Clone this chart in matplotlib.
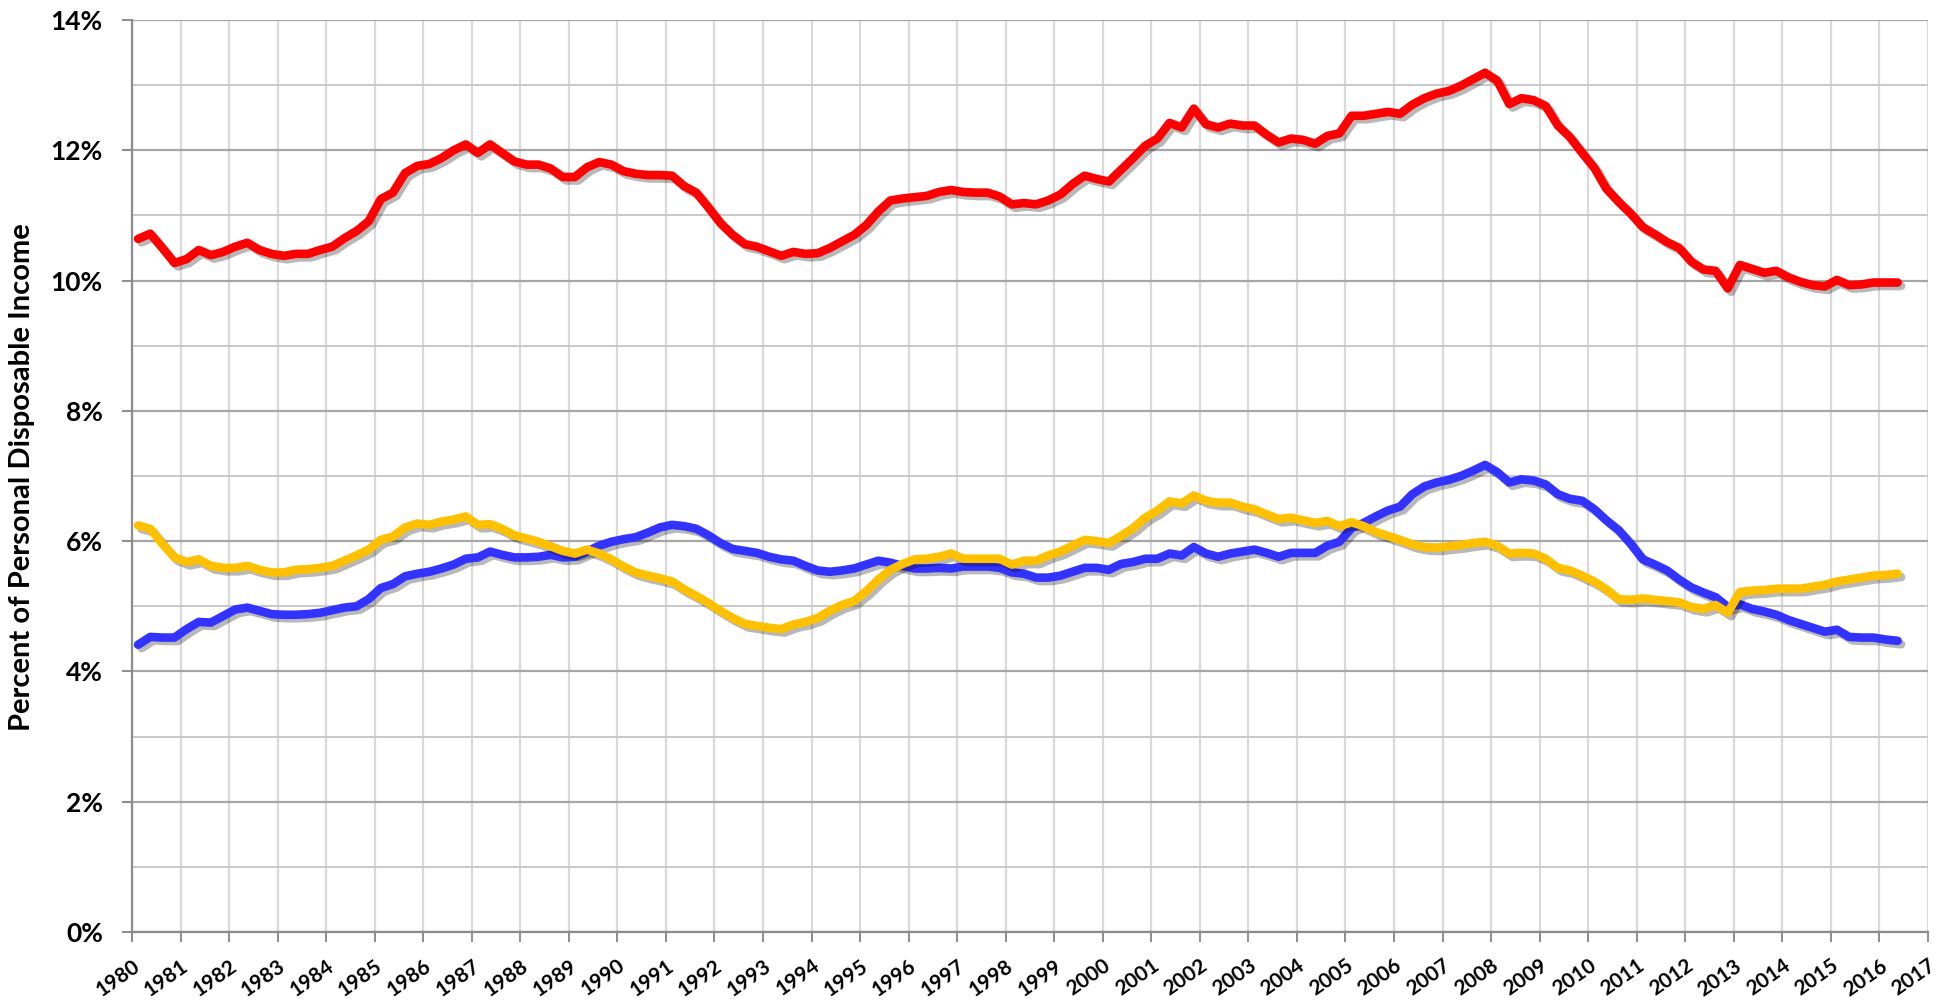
import numpy as np
import pandas as pd
import matplotlib
matplotlib.use("Agg")
import matplotlib.pyplot as plt
import matplotlib.patheffects as pe
from matplotlib.ticker import MultipleLocator, FuncFormatter
from matplotlib.transforms import ScaledTranslation

plt.rcParams['font.family'] = ['Lato', 'DejaVu Sans']

# quarterly observations, 1980Q1 .. 2016Q2 (percent of disposable income)
quarters = pd.period_range('1980Q1', '2016Q2', freq='Q')

total = [
    10.64, 10.72, 10.50, 10.27, 10.33, 10.47, 10.39, 10.44, 10.52, 10.58,
    10.47, 10.41, 10.38, 10.41, 10.41, 10.47, 10.52, 10.65, 10.76, 10.91,
    11.25, 11.35, 11.65, 11.76, 11.79, 11.88, 12.00, 12.09, 11.96, 12.09,
    11.96, 11.83, 11.78, 11.78, 11.72, 11.59, 11.59, 11.74, 11.82, 11.78,
    11.68, 11.64, 11.62, 11.62, 11.61, 11.45, 11.35, 11.12, 10.88, 10.70,
    10.56, 10.52, 10.45, 10.38, 10.44, 10.41, 10.42, 10.50, 10.60, 10.70,
    10.85, 11.06, 11.23, 11.26, 11.28, 11.30, 11.36, 11.39, 11.36, 11.35,
    11.35, 11.29, 11.17, 11.19, 11.17, 11.23, 11.32, 11.48, 11.61, 11.56,
    11.52, 11.70, 11.88, 12.07, 12.18, 12.42, 12.35, 12.64, 12.40, 12.35,
    12.41, 12.38, 12.38, 12.24, 12.12, 12.18, 12.16, 12.10, 12.22, 12.26,
    12.53, 12.53, 12.56, 12.59, 12.56, 12.70, 12.80, 12.87, 12.91, 12.99,
    13.09, 13.19, 13.07, 12.71, 12.80, 12.77, 12.68, 12.38, 12.20, 11.96,
    11.73, 11.41, 11.21, 11.03, 10.82, 10.71, 10.59, 10.50, 10.29, 10.17,
    10.15, 9.88, 10.24, 10.18, 10.12, 10.15, 10.05, 9.98, 9.93, 9.91,
    10.01, 9.93, 9.94, 9.97, 9.97, 9.97,
]

blue_series = [
    4.41, 4.53, 4.52, 4.52, 4.65, 4.76, 4.75, 4.85, 4.95, 4.98,
    4.93, 4.88, 4.87, 4.87, 4.88, 4.90, 4.94, 4.98, 5.00, 5.11,
    5.28, 5.34, 5.46, 5.50, 5.53, 5.58, 5.64, 5.73, 5.75, 5.84,
    5.79, 5.75, 5.75, 5.76, 5.79, 5.75, 5.76, 5.84, 5.93, 5.99,
    6.03, 6.06, 6.13, 6.21, 6.25, 6.23, 6.19, 6.09, 5.97, 5.88,
    5.85, 5.82, 5.76, 5.72, 5.70, 5.62, 5.55, 5.53, 5.55, 5.58,
    5.64, 5.70, 5.67, 5.62, 5.58, 5.58, 5.59, 5.58, 5.61, 5.61,
    5.61, 5.59, 5.52, 5.50, 5.44, 5.44, 5.47, 5.53, 5.59, 5.59,
    5.56, 5.65, 5.68, 5.73, 5.73, 5.81, 5.78, 5.91, 5.81, 5.76,
    5.81, 5.84, 5.87, 5.82, 5.76, 5.82, 5.82, 5.82, 5.93, 5.99,
    6.20, 6.28, 6.38, 6.47, 6.53, 6.72, 6.84, 6.90, 6.94, 7.00,
    7.08, 7.17, 7.06, 6.90, 6.95, 6.93, 6.87, 6.72, 6.65, 6.62,
    6.49, 6.32, 6.17, 5.96, 5.72, 5.64, 5.55, 5.41, 5.29, 5.21,
    5.14, 4.99, 5.03, 4.96, 4.92, 4.87, 4.79, 4.73, 4.67, 4.61,
    4.64, 4.53, 4.52, 4.52, 4.49, 4.47,
]

yellow_series = [
    6.24, 6.19, 5.96, 5.75, 5.68, 5.72, 5.62, 5.59, 5.59, 5.62,
    5.56, 5.52, 5.52, 5.56, 5.57, 5.59, 5.62, 5.70, 5.78, 5.87,
    6.02, 6.07, 6.21, 6.27, 6.25, 6.30, 6.33, 6.38, 6.25, 6.26,
    6.19, 6.09, 6.04, 5.99, 5.92, 5.85, 5.81, 5.87, 5.81, 5.72,
    5.61, 5.52, 5.47, 5.43, 5.38, 5.26, 5.16, 5.05, 4.93, 4.82,
    4.73, 4.70, 4.67, 4.65, 4.72, 4.76, 4.82, 4.93, 5.02, 5.08,
    5.23, 5.41, 5.56, 5.65, 5.72, 5.73, 5.76, 5.81, 5.73, 5.73,
    5.73, 5.73, 5.64, 5.70, 5.70, 5.78, 5.84, 5.93, 6.02, 6.00,
    5.97, 6.08, 6.20, 6.36, 6.47, 6.61, 6.58, 6.70, 6.62, 6.59,
    6.59, 6.53, 6.49, 6.41, 6.34, 6.36, 6.32, 6.28, 6.31, 6.23,
    6.29, 6.23, 6.14, 6.08, 6.02, 5.95, 5.91, 5.90, 5.92, 5.94,
    5.97, 5.99, 5.93, 5.81, 5.82, 5.81, 5.73, 5.59, 5.55, 5.47,
    5.38, 5.26, 5.11, 5.10, 5.12, 5.10, 5.08, 5.06, 4.99, 4.96,
    5.02, 4.90, 5.22, 5.24, 5.25, 5.27, 5.27, 5.27, 5.30, 5.33,
    5.38, 5.41, 5.44, 5.47, 5.48, 5.50,
]

year_ticks = list(range(1980, 2018))
pct_ticks = list(range(0, 15, 2))

# middle of each quarter as a decimal year
x = quarters.year + (quarters.quarter - 0.5) / 4.0

fig = plt.figure(figsize=(19.5, 10), dpi=100)
ax = fig.add_axes([0.0677, 0.068, 0.921, 0.912])

shadow = [pe.SimpleLineShadow(offset=(2.5, -2.5), shadow_color='black', alpha=0.28),
          pe.Normal()]
kw = dict(linewidth=6.2, solid_joinstyle='round', solid_capstyle='round',
          path_effects=shadow, zorder=5)
ax.plot(x, total, color='#FF0000', **kw)
ax.plot(x, blue_series, color='#3333FF', **kw)
ax.plot(x, yellow_series, color='#FFC000', **kw)

ax.set_xlim(1980, 2017)
ax.set_ylim(0, 14)

ax.set_xticks(year_ticks)
ax.set_xticklabels([str(y) for y in year_ticks], rotation=35, ha='right', va='top',
                   rotation_mode='anchor', fontsize=15, fontweight='bold')
for lbl in ax.get_xticklabels():
    lbl.set_transform(lbl.get_transform() + ScaledTranslation(0.12, 0, fig.dpi_scale_trans))

ax.set_yticks(pct_ticks)
ax.yaxis.set_minor_locator(MultipleLocator(1))
ax.yaxis.set_major_formatter(FuncFormatter(lambda v, p: f"{v:.0f}%"))
for lbl in ax.get_yticklabels():
    lbl.set_fontsize(19)
    lbl.set_fontweight('bold')

ax.tick_params(axis='y', which='major', length=7, width=1.4, color='#8C8C8C', pad=14)
ax.tick_params(axis='y', which='minor', length=0)
ax.tick_params(axis='x', which='major', length=7, width=1.4, color='#8C8C8C', pad=10)

ax.grid(axis='y', which='major', color='#A6A6A6', linewidth=1.6, zorder=0)
ax.grid(axis='y', which='minor', color='#C8C8C8', linewidth=1.4, zorder=0)
ax.grid(axis='x', which='major', color='#D9D9D9', linewidth=1.6, zorder=0)
ax.set_axisbelow(True)

for side in ['top', 'right']:
    ax.spines[side].set_visible(False)
ax.spines['left'].set_color('#8C8C8C')
ax.spines['bottom'].set_color('#8C8C8C')
ax.spines['left'].set_linewidth(1.6)
ax.spines['bottom'].set_linewidth(1.6)

fig.text(0.0115, 0.5225, 'Percent of Personal Disposable Income', rotation=90,
         ha='center', va='center', fontsize=21, fontweight='bold')

fig.savefig('out.png', dpi=100, facecolor='white')
